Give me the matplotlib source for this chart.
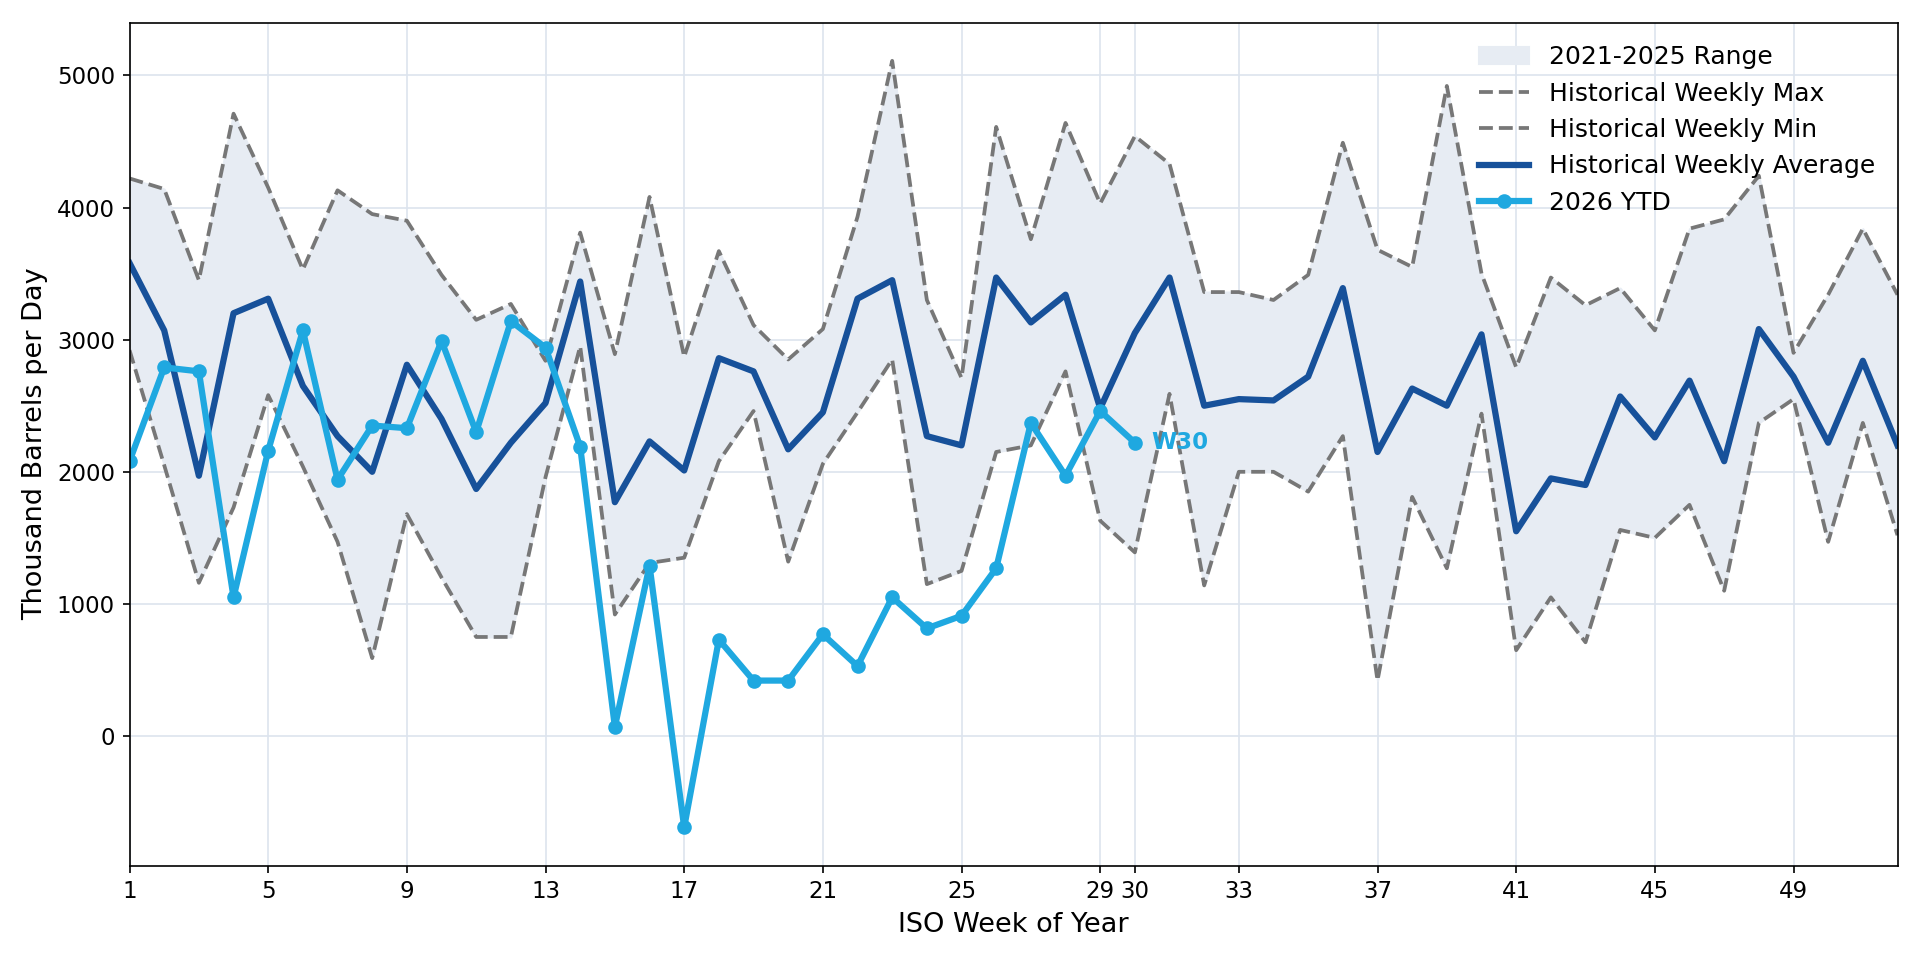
import matplotlib
matplotlib.use("Agg")
import matplotlib.pyplot as plt

weeks = list(range(1, 53))

hist_max = [4220, 4140, 3450, 4710, 4150, 3530, 4130, 3950, 3900, 3490,
            3150, 3270, 2840, 3810, 2890, 4080, 2870, 3670, 3110, 2850,
            3080, 3930, 5110, 3300, 2710, 4610, 3760, 4640, 4030, 4540,
            4330, 3360, 3360, 3300, 3490, 4490, 3680, 3550, 4920, 3500,
            2790, 3470, 3260, 3390, 3070, 3840, 3910, 4240, 2900, 3340,
            3840, 3340]

hist_min = [2920, 2050, 1160, 1730, 2580, 2040, 1470, 590, 1680, 1200,
            750, 750, 1960, 2950, 920, 1310, 1350, 2080, 2460, 1320,
            2060, 2450, 2850, 1150, 1250, 2150, 2200, 2760, 1630, 1390,
            2590, 1140, 2000, 2000, 1850, 2270, 420, 1810, 1270, 2440,
            650, 1050, 710, 1560, 1500, 1750, 1100, 2370, 2550, 1470,
            2370, 1520]

hist_avg = [3580, 3070, 1970, 3200, 3310, 2650, 2270, 2000, 2810, 2400,
            1870, 2220, 2520, 3440, 1770, 2230, 2010, 2860, 2760, 2170,
            2450, 3310, 3450, 2270, 2200, 3470, 3130, 3340, 2480, 3050,
            3470, 2500, 2550, 2540, 2720, 3390, 2150, 2630, 2500, 3040,
            1550, 1950, 1900, 2570, 2260, 2690, 2080, 3080, 2720, 2220,
            2840, 2200]

ytd_weeks = list(range(1, 31))
ytd = [2080, 2790, 2760, 1050, 2160, 3070, 1940, 2350, 2330, 2990,
       2300, 3140, 2940, 2190, 70, 1290, -690, 730, 420, 420,
       770, 530, 1050, 815, 910, 1270, 2370, 1970, 2460, 2220]

xticks = [1, 5, 9, 13, 17, 21, 25, 29, 30, 33, 37, 41, 45, 49]

c_avg = "#17519a"
c_ytd = "#1fa8e0"
c_dash = "#777777"

fig, ax = plt.subplots(figsize=(12.8, 6.4), dpi=150)

ax.fill_between(weeks, hist_min, hist_max, color="#e7ecf3", label="2021-2025 Range")
ax.plot(weeks, hist_max, "--", color=c_dash, lw=1.8, label="Historical Weekly Max")
ax.plot(weeks, hist_min, "--", color=c_dash, lw=1.8, label="Historical Weekly Min")
ax.plot(weeks, hist_avg, color=c_avg, lw=3, label="Historical Weekly Average")
ax.plot(ytd_weeks, ytd, color=c_ytd, lw=3, marker="o", ms=6, label="2026 YTD")

ax.annotate("W30", (ytd_weeks[-1], ytd[-1]), xytext=(8, 0), textcoords="offset points",
            va="center", ha="left", color=c_ytd, fontweight="bold", fontsize=11)

ax.set_xlim(1, 52)
ax.set_xticks(xticks)
ax.tick_params(labelsize=11)
ax.grid(True, color="#dde4ee", lw=0.8)
ax.set_axisbelow(True)

ax.set_xlabel("ISO Week of Year", fontsize=13)
ax.set_ylabel("Thousand Barrels per Day", fontsize=13)
ax.legend(loc="upper right", frameon=False, fontsize=12)

plt.tight_layout()
plt.savefig("out.png")
